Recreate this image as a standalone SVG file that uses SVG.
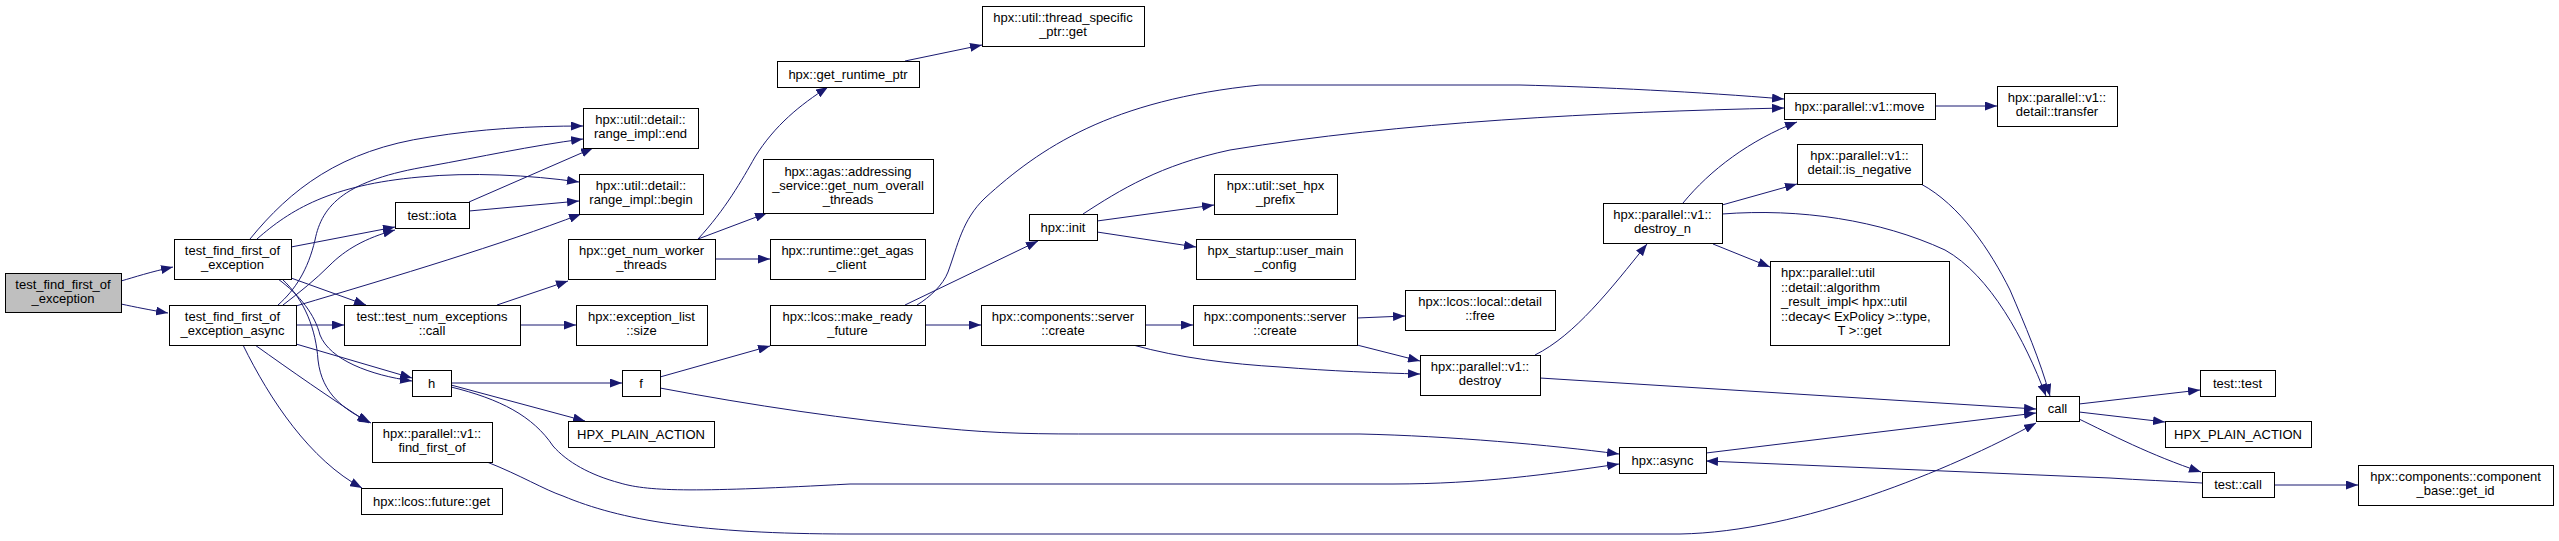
<svg xmlns="http://www.w3.org/2000/svg" width="2559" height="541" viewBox="0 0 2559 541">
<style>
.node rect{fill:#fff;stroke:#000;stroke-width:1}
.root rect{fill:#bfbfbf}
text{font-family:"Liberation Sans",Arial,Helvetica,sans-serif;font-size:13px;fill:#000;text-anchor:middle}
text.l{text-anchor:start}
.edges path{fill:none;stroke:#191970;stroke-width:1;marker-end:url(#arr)}
</style>
<defs>
<marker id="arr" markerUnits="userSpaceOnUse" markerWidth="12" markerHeight="9" refX="12" refY="4.5" orient="auto"><path d="M0,0 L12,4.5 L0,9 z" fill="#191970"/></marker>
</defs>
<rect width="2559" height="541" fill="#fff"/>
<g class="edges">
<path d="M121,281 C135,277 150,272 173,267"/>
<path d="M121,304 C135,307 150,310 168,313"/>
<path d="M250,239 C290,190 340,150 430,137 C480,129 530,126 583,126"/>
<path d="M257,239 C290,210 330,185 420,177 C470,172 530,175 579,182"/>
<path d="M278,305 C295,290 308,270 315,240 C322,205 345,180 430,166 C480,157 530,146 583,139"/>
<path d="M283,305 C300,292 315,280 330,265 C345,250 365,238 395,230"/>
<path d="M296,306 C400,275 500,245 581,214"/>
<path d="M291,247 L395,227"/>
<path d="M469,202 L593,148"/>
<path d="M469,211 L579,201"/>
<path d="M291,278 L366,305"/>
<path d="M296,325 L344,325"/>
<path d="M296,344 L412,378"/>
<path d="M278,279 C300,295 315,315 320,335 C330,360 370,375 412,381"/>
<path d="M282,279 C305,300 316,330 318,360 C322,395 345,410 371,423"/>
<path d="M255,345 C290,370 330,398 369,423"/>
<path d="M243,345 C270,400 310,460 362,488"/>
<path d="M497,305 L568,281"/>
<path d="M520,325 L576,325"/>
<path d="M451,383 L622,383"/>
<path d="M451,385 L585,421"/>
<path d="M451,387 C500,399 533,416 553,446 C567,462 590,475 620,483 C650,492 700,492 850,484 L1393,484 C1480,484 1550,474 1619,464"/>
<path d="M660,388 C750,405 850,420 940,428 C1000,434 1040,434 1100,434 L1360,434 C1450,436 1550,445 1619,454"/>
<path d="M660,377 L770,346"/>
<path d="M487,462 C520,475 545,490 563,496 C620,520 700,534 850,534 L1680,534 C1800,532 1950,470 2036,423"/>
<path d="M698,239 C725,210 742,180 755,157 C775,125 800,105 828,87"/>
<path d="M698,239 L767,213"/>
<path d="M715,259 L770,259"/>
<path d="M905,61 L982,45"/>
<path d="M905,305 L1038,241"/>
<path d="M917,305 C930,297 943,285 948,272 C958,245 962,220 985,198 C1040,148 1110,100 1260,85 L1520,85 C1600,87 1700,92 1784,99"/>
<path d="M1083,214 C1120,190 1160,165 1230,150 C1400,122 1600,112 1784,108"/>
<path d="M1097,221 L1214,205"/>
<path d="M1097,232 L1196,247"/>
<path d="M925,325 L981,325"/>
<path d="M1145,325 L1193,325"/>
<path d="M1133,345 C1180,358 1230,364 1280,367 C1330,371 1380,373 1420,374"/>
<path d="M1357,318 L1405,316"/>
<path d="M1357,345 L1420,361"/>
<path d="M1535,355 C1575,335 1610,290 1647,244"/>
<path d="M1540,378 L2036,409"/>
<path d="M1706,453 L2036,413"/>
<path d="M2202,483 C2170,481 2140,480 2110,478 L1706,461"/>
<path d="M1683,203 C1710,170 1750,140 1797,122"/>
<path d="M1722,205 L1797,184"/>
<path d="M1713,244 L1770,267"/>
<path d="M1722,214 C1800,208 1880,220 1945,250 C1990,275 2025,340 2046,396"/>
<path d="M1921,184 C1960,205 1990,250 2010,290 C2025,325 2040,360 2050,396"/>
<path d="M2079,404 L2200,390"/>
<path d="M2079,412 L2165,422"/>
<path d="M2079,419 C2110,434 2150,455 2201,472"/>
<path d="M2274,485 L2358,485"/>
<path d="M1935,106 L1997,106"/>
</g>
<g id="n0" class="node root"><rect x="5.5" y="273.5" width="116" height="39"/><text x="63" y="289">test_find_first_of</text><text x="63" y="303">_exception</text></g>
<g id="n1" class="node"><rect x="174.5" y="239.5" width="117" height="40"/><text x="232.5" y="255">test_find_first_of</text><text x="232.5" y="269">_exception</text></g>
<g id="n2" class="node"><rect x="169.5" y="305.5" width="127" height="40"/><text x="232.5" y="321">test_find_first_of</text><text x="232.5" y="335">_exception_async</text></g>
<g id="n3" class="node"><rect x="395.5" y="202.5" width="74" height="26"/><text x="432" y="219.5">test::iota</text></g>
<g id="n4" class="node"><rect x="344.5" y="305.5" width="176" height="40"/><text x="432" y="321">test::test_num_exceptions</text><text x="432" y="335">::call</text></g>
<g id="n5" class="node"><rect x="412.5" y="370.5" width="39" height="26"/><text x="431.5" y="387.5">h</text></g>
<g id="n6" class="node"><rect x="372.5" y="422.5" width="120" height="40"/><text x="432" y="438">hpx::parallel::v1::</text><text x="432" y="452">find_first_of</text></g>
<g id="n7" class="node"><rect x="361.5" y="488.5" width="141" height="26"/><text x="431.5" y="505.5">hpx::lcos::future::get</text></g>
<g id="n8" class="node"><rect x="583.5" y="108.5" width="115" height="40"/><text x="640.5" y="124">hpx::util::detail::</text><text x="640.5" y="138">range_impl::end</text></g>
<g id="n9" class="node"><rect x="579.5" y="174.5" width="124" height="40"/><text x="641" y="190">hpx::util::detail::</text><text x="641" y="204">range_impl::begin</text></g>
<g id="n10" class="node"><rect x="568.5" y="239.5" width="147" height="40"/><text x="641.5" y="255">hpx::get_num_worker</text><text x="641.5" y="269">_threads</text></g>
<g id="n11" class="node"><rect x="576.5" y="305.5" width="131" height="40"/><text x="641.5" y="321">hpx::exception_list</text><text x="641.5" y="335">::size</text></g>
<g id="n12" class="node"><rect x="622.5" y="370.5" width="38" height="26"/><text x="641" y="387.5">f</text></g>
<g id="n13" class="node"><rect x="568.5" y="421.5" width="146" height="26"/><text x="641" y="438.5">HPX_PLAIN_ACTION</text></g>
<g id="n14" class="node"><rect x="777.5" y="61.5" width="142" height="26"/><text x="848" y="78.5">hpx::get_runtime_ptr</text></g>
<g id="n15" class="node"><rect x="763.5" y="159.5" width="170" height="54"/><text x="848" y="175.5">hpx::agas::addressing</text><text x="848" y="189.5">_service::get_num_overall</text><text x="848" y="203.5">_threads</text></g>
<g id="n16" class="node"><rect x="770.5" y="239.5" width="155" height="40"/><text x="847.5" y="255">hpx::runtime::get_agas</text><text x="847.5" y="269">_client</text></g>
<g id="n17" class="node"><rect x="770.5" y="305.5" width="155" height="40"/><text x="847.5" y="321">hpx::lcos::make_ready</text><text x="847.5" y="335">_future</text></g>
<g id="n18" class="node"><rect x="982.5" y="6.5" width="162" height="40"/><text x="1063" y="22">hpx::util::thread_specific</text><text x="1063" y="36">_ptr::get</text></g>
<g id="n19" class="node"><rect x="1029.5" y="214.5" width="68" height="26"/><text x="1063" y="231.5">hpx::init</text></g>
<g id="n20" class="node"><rect x="1214.5" y="174.5" width="123" height="40"/><text x="1275.5" y="190">hpx::util::set_hpx</text><text x="1275.5" y="204">_prefix</text></g>
<g id="n21" class="node"><rect x="1196.5" y="239.5" width="159" height="40"/><text x="1275.5" y="255">hpx_startup::user_main</text><text x="1275.5" y="269">_config</text></g>
<g id="n22" class="node"><rect x="981.5" y="305.5" width="164" height="40"/><text x="1063" y="321">hpx::components::server</text><text x="1063" y="335">::create</text></g>
<g id="n23" class="node"><rect x="1193.5" y="305.5" width="164" height="40"/><text x="1275" y="321">hpx::components::server</text><text x="1275" y="335">::create</text></g>
<g id="n24" class="node"><rect x="1405.5" y="290.5" width="150" height="40"/><text x="1480" y="306">hpx::lcos::local::detail</text><text x="1480" y="320">::free</text></g>
<g id="n25" class="node"><rect x="1420.5" y="355.5" width="120" height="40"/><text x="1480" y="371">hpx::parallel::v1::</text><text x="1480" y="385">destroy</text></g>
<g id="n26" class="node"><rect x="1619.5" y="447.5" width="87" height="26"/><text x="1662.5" y="464.5">hpx::async</text></g>
<g id="n27" class="node"><rect x="1603.5" y="203.5" width="119" height="40"/><text x="1662.5" y="219">hpx::parallel::v1::</text><text x="1662.5" y="233">destroy_n</text></g>
<g id="n28" class="node"><rect x="1784.5" y="93.5" width="151" height="26"/><text x="1859.5" y="110.5">hpx::parallel::v1::move</text></g>
<g id="n29" class="node"><rect x="1997.5" y="86.5" width="120" height="40"/><text x="2057" y="102">hpx::parallel::v1::</text><text x="2057" y="116">detail::transfer</text></g>
<g id="n30" class="node"><rect x="1797.5" y="144.5" width="125" height="40"/><text x="1859.5" y="160">hpx::parallel::v1::</text><text x="1859.5" y="174">detail::is_negative</text></g>
<g id="n31" class="node"><rect x="1770.5" y="261.5" width="179" height="84"/><text class="l" x="1781" y="276.5">hpx::parallel::util</text><text class="l" x="1781" y="291.5">::detail::algorithm</text><text class="l" x="1781" y="306">_result_impl&lt; hpx::util</text><text class="l" x="1781" y="320.5">::decay&lt; ExPolicy &gt;::type,</text><text x="1859.5" y="335">T &gt;::get</text></g>
<g id="n32" class="node"><rect x="2036.5" y="396.5" width="43" height="25"/><text x="2057.5" y="413">call</text></g>
<g id="n33" class="node"><rect x="2200.5" y="370.5" width="75" height="26"/><text x="2237.5" y="387.5">test::test</text></g>
<g id="n34" class="node"><rect x="2165.5" y="421.5" width="146" height="26"/><text x="2238" y="438.5">HPX_PLAIN_ACTION</text></g>
<g id="n35" class="node"><rect x="2202.5" y="472.5" width="72" height="25"/><text x="2238" y="489">test::call</text></g>
<g id="n36" class="node"><rect x="2358.5" y="465.5" width="195" height="40"/><text x="2455.5" y="481">hpx::components::component</text><text x="2455.5" y="495">_base::get_id</text></g>
</svg>
